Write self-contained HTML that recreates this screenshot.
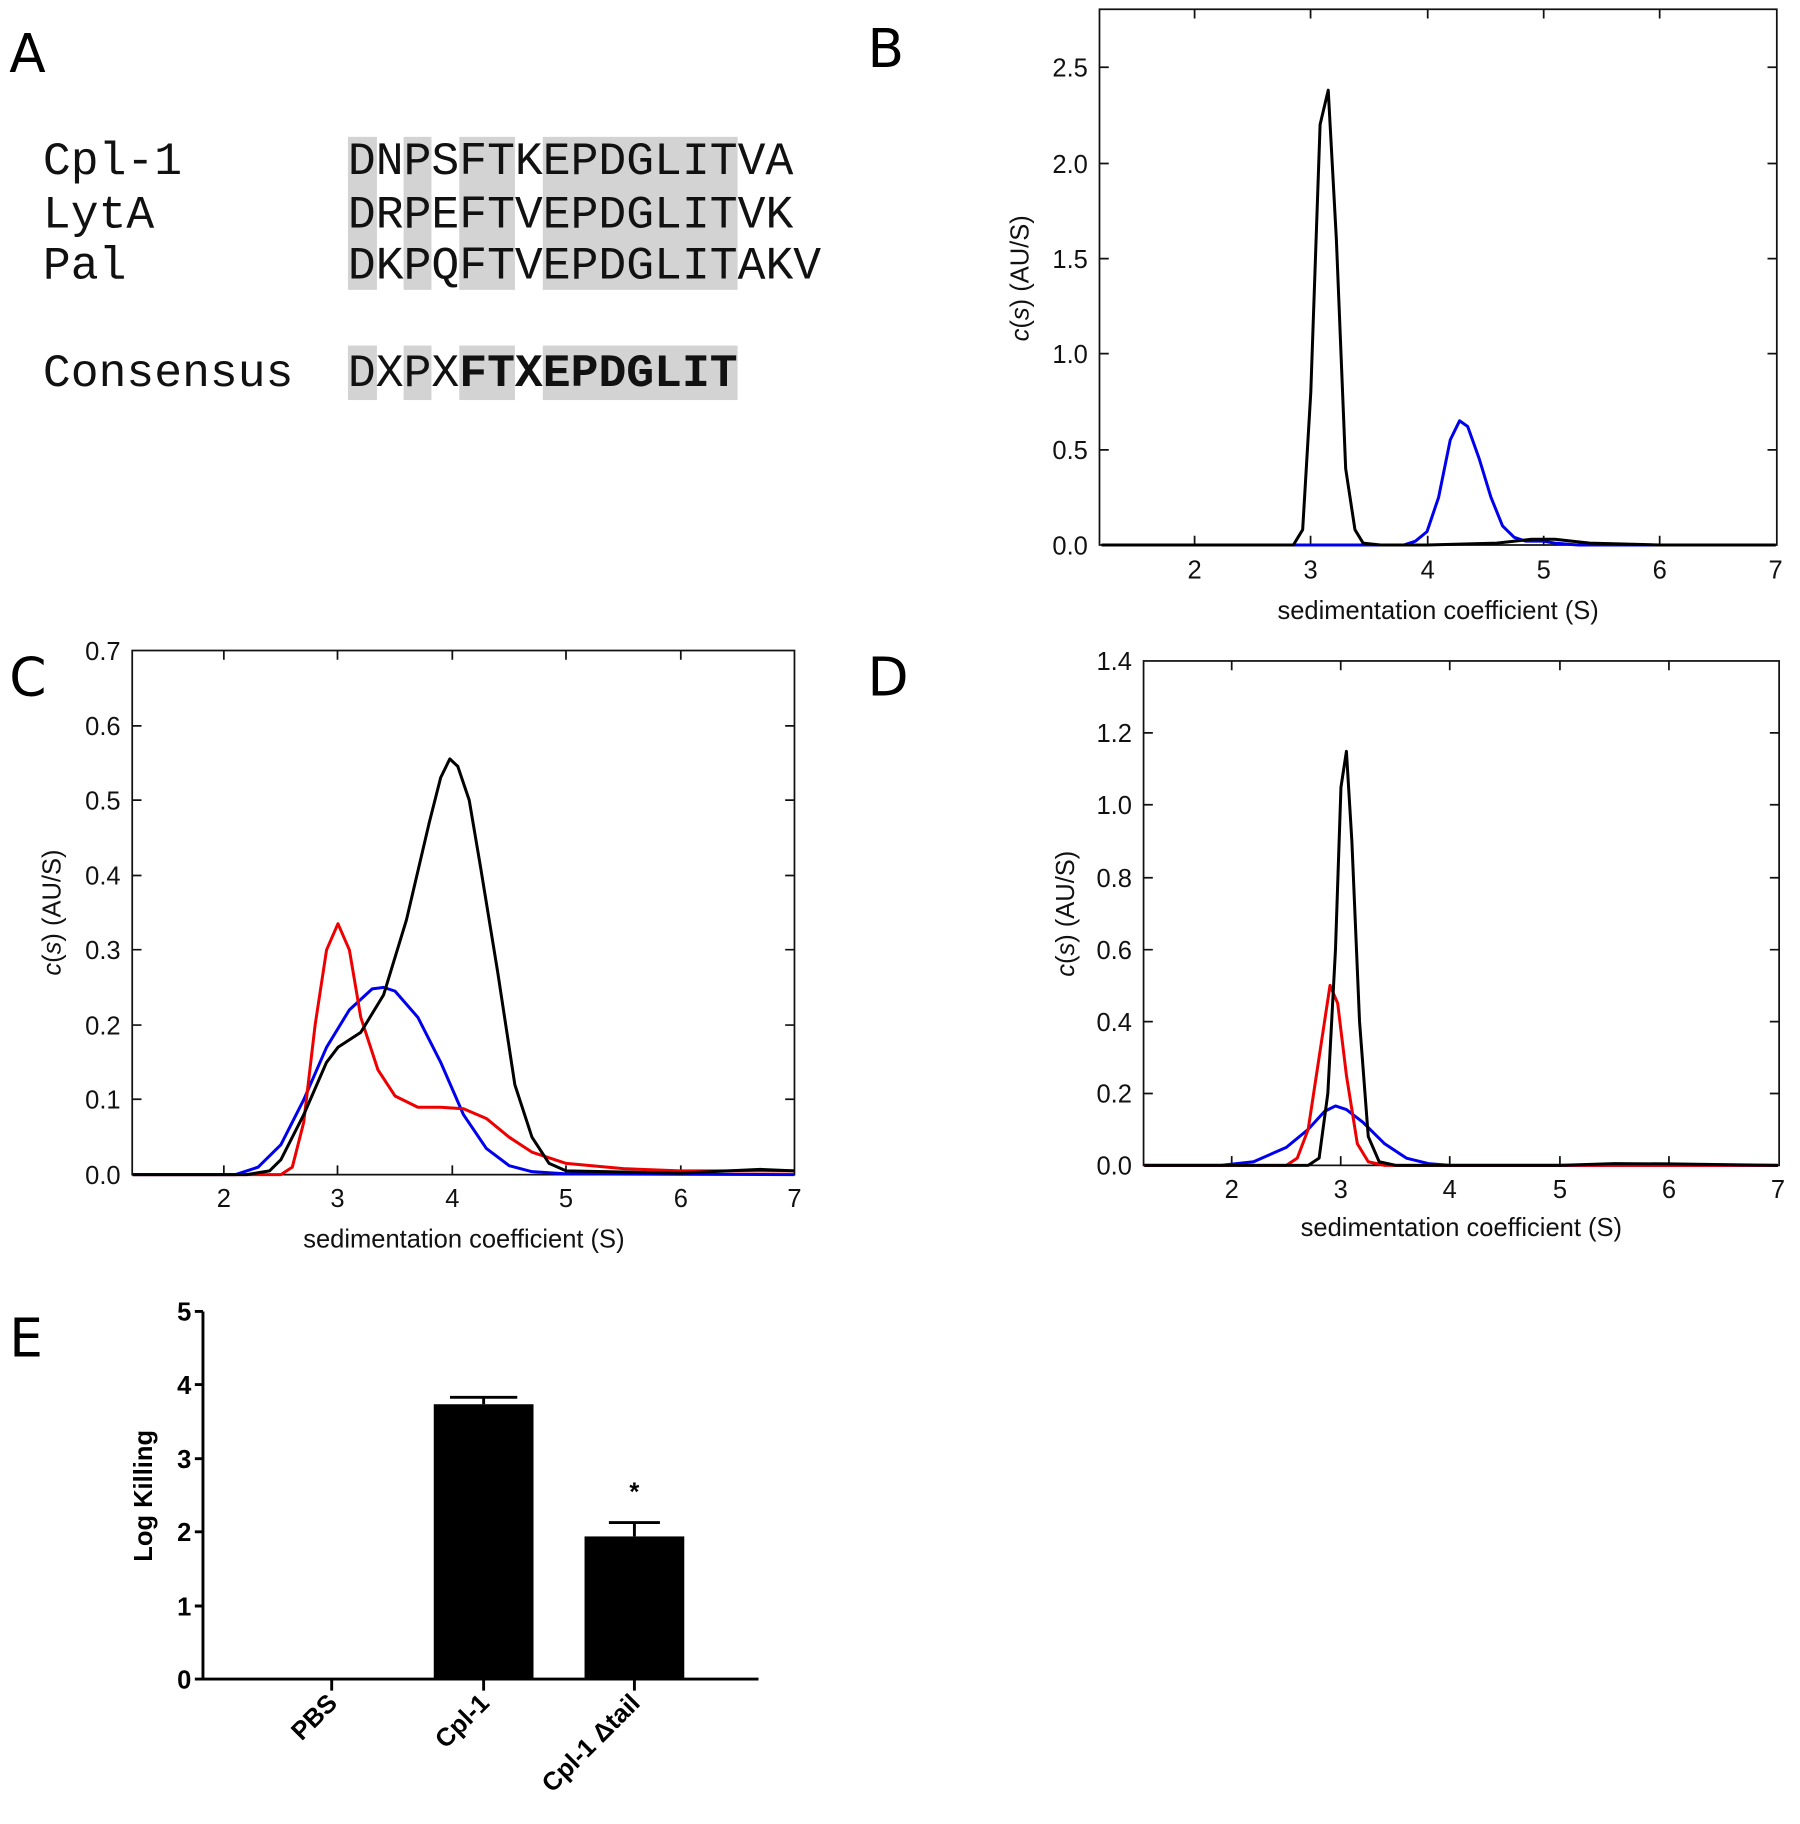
<!DOCTYPE html>
<html><head><meta charset="utf-8"><style>
html,body{margin:0;padding:0;background:#fff;}
svg{display:block;}
.lab{font-family:"DejaVu Sans","Liberation Sans",sans-serif;font-size:46px;}
.seq{font-family:"Liberation Mono",monospace;font-size:40px;fill:#111;}
.tk{font-family:"Liberation Sans",sans-serif;font-size:22px;fill:#111;}
.ax{font-family:"Liberation Sans",sans-serif;font-size:22px;fill:#111;}
.bt{font-family:"Liberation Sans",sans-serif;font-size:22px;font-weight:bold;fill:#000;}
.c{fill:none;stroke-width:3;vector-effect:non-scaling-stroke;stroke-linejoin:round;}
</style></head><body>
<svg width="1800" height="1824" viewBox="0 0 1552 1573" preserveAspectRatio="none" xmlns="http://www.w3.org/2000/svg">
<!-- Panel A -->
<text class="lab" x="8" y="62">A</text>
<g fill="#d3d3d3">
<rect x="300" y="118" width="25" height="132"/>
<rect x="348" y="118" width="24" height="132"/>
<rect x="396" y="118" width="48" height="132"/>
<rect x="468" y="118" width="168" height="132"/>
<rect x="300" y="298" width="25" height="47"/>
<rect x="348" y="298" width="24" height="47"/>
<rect x="396" y="298" width="48" height="47"/>
<rect x="468" y="298" width="168" height="47"/>
</g>
<text class="seq" x="37" y="150">Cpl-1</text>
<text class="seq" x="37" y="196">LytA</text>
<text class="seq" x="37" y="240">Pal</text>
<text class="seq" x="37" y="333">Consensus</text>
<text class="seq" x="300" y="150" textLength="384" lengthAdjust="spacingAndGlyphs">DNPSFTKEPDGLITVA</text>
<text class="seq" x="300" y="196" textLength="384" lengthAdjust="spacingAndGlyphs">DRPEFTVEPDGLITVK</text>
<text class="seq" x="300" y="240" textLength="408" lengthAdjust="spacingAndGlyphs">DKPQFTVEPDGLITAKV</text>
<text class="seq" x="300" y="333" textLength="96" lengthAdjust="spacingAndGlyphs">DXPX</text>
<text class="seq" x="396" y="333" textLength="240" lengthAdjust="spacingAndGlyphs" font-weight="bold">FTXEPDGLIT</text>

<!-- Panel B -->
<text class="lab" x="748" y="58">B</text>
<rect x="948" y="8" width="584" height="462" fill="none" stroke="#111" stroke-width="1.5"/>
<g stroke="#111" stroke-width="1.5">
<path d="M1030 470v-8M1130 470v-8M1231 470v-8M1331 470v-8M1431 470v-8M1030 8v8M1130 8v8M1231 8v8M1331 8v8M1431 8v8"/>
<path d="M948 388h8M948 305h8M948 223h8M948 141h8M948 58h8M1532 388h-8M1532 305h-8M1532 223h-8M1532 141h-8M1532 58h-8"/>
</g>
<g class="tk" text-anchor="end">
<text x="938" y="478">0.0</text><text x="938" y="396">0.5</text><text x="938" y="313">1.0</text><text x="938" y="231">1.5</text><text x="938" y="149">2.0</text><text x="938" y="66">2.5</text>
</g>
<g class="tk" text-anchor="middle">
<text x="1030" y="499">2</text><text x="1130" y="499">3</text><text x="1231" y="499">4</text><text x="1331" y="499">5</text><text x="1431" y="499">6</text><text x="1531" y="499">7</text>
</g>
<text class="ax" x="1240" y="534" text-anchor="middle">sedimentation coefficient (S)</text>
<text class="ax" transform="translate(887,240) rotate(-90)" text-anchor="middle"><tspan font-style="italic">c</tspan>(<tspan font-style="italic">s</tspan>) (AU/S)</text>
<g transform="translate(829.6,470) scale(100.2,-164.8)">
<polyline class="c" stroke="#0000ee" points="1.2,0 3.8,0 3.9,0.02 4,0.07 4.1,0.25 4.2,0.55 4.28,0.65 4.35,0.62 4.45,0.45 4.55,0.25 4.65,0.1 4.75,0.04 4.85,0.02 5,0.02 5.1,0.01 5.3,0 7,0"/>
<polyline class="c" stroke="#000" points="1.2,0 2.85,0 2.93,0.08 3,0.8 3.08,2.2 3.15,2.38 3.22,1.6 3.3,0.4 3.38,0.08 3.45,0.01 3.6,0 4,0 4.6,0.01 4.9,0.03 5.1,0.03 5.4,0.01 6,0 7,0"/>
</g>

<!-- Panel C -->
<text class="lab" x="8" y="600">C</text>
<rect x="114" y="561" width="571" height="452" fill="none" stroke="#111" stroke-width="1.5"/>
<g stroke="#111" stroke-width="1.5">
<path d="M193 1013v-8M291 1013v-8M390 1013v-8M488 1013v-8M587 1013v-8M193 561v8M291 561v8M390 561v8M488 561v8M587 561v8"/>
<path d="M114 948h8M114 884h8M114 819h8M114 755h8M114 690h8M114 626h8M685 948h-8M685 884h-8M685 819h-8M685 755h-8M685 690h-8M685 626h-8"/>
</g>
<g class="tk" text-anchor="end">
<text x="104" y="1021">0.0</text><text x="104" y="956">0.1</text><text x="104" y="892">0.2</text><text x="104" y="827">0.3</text><text x="104" y="763">0.4</text><text x="104" y="698">0.5</text><text x="104" y="634">0.6</text><text x="104" y="569">0.7</text>
</g>
<g class="tk" text-anchor="middle">
<text x="193" y="1041">2</text><text x="291" y="1041">3</text><text x="390" y="1041">4</text><text x="488" y="1041">5</text><text x="587" y="1041">6</text><text x="685" y="1041">7</text>
</g>
<text class="ax" x="400" y="1076" text-anchor="middle">sedimentation coefficient (S)</text>
<text class="ax" transform="translate(52,787) rotate(-90)" text-anchor="middle"><tspan font-style="italic">c</tspan>(<tspan font-style="italic">s</tspan>) (AU/S)</text>
<g transform="translate(-3.8,1013) scale(98.4,-646)">
<polyline class="c" stroke="#0000ee" points="1.2,0 2.1,0 2.3,0.01 2.5,0.04 2.7,0.1 2.9,0.17 3.1,0.22 3.3,0.248 3.4,0.25 3.5,0.245 3.7,0.21 3.9,0.15 4.1,0.08 4.3,0.035 4.5,0.012 4.7,0.004 5,0.001 7,0"/>
<polyline class="c" stroke="#ee0000" points="1.2,0 2.5,0 2.6,0.01 2.7,0.07 2.8,0.2 2.9,0.3 3,0.335 3.1,0.3 3.2,0.21 3.35,0.14 3.5,0.105 3.7,0.09 3.9,0.09 4.1,0.088 4.3,0.075 4.5,0.05 4.7,0.03 5,0.015 5.5,0.008 6,0.005 7,0.005"/>
<polyline class="c" stroke="#000" points="1.2,0 2.2,0 2.4,0.005 2.5,0.02 2.7,0.08 2.9,0.15 3,0.17 3.2,0.19 3.4,0.24 3.6,0.34 3.8,0.47 3.9,0.53 3.98,0.555 4.05,0.545 4.15,0.5 4.25,0.41 4.4,0.27 4.55,0.12 4.7,0.05 4.85,0.015 5,0.005 6,0.002 6.7,0.007 7,0.005"/>
</g>

<!-- Panel D -->
<text class="lab" x="748" y="600">D</text>
<rect x="986" y="570" width="548" height="435" fill="none" stroke="#111" stroke-width="1.5"/>
<g stroke="#111" stroke-width="1.5">
<path d="M1062 1005v-8M1156 1005v-8M1250 1005v-8M1345 1005v-8M1439 1005v-8M1062 570v8M1156 570v8M1250 570v8M1345 570v8M1439 570v8"/>
<path d="M986 943h8M986 881h8M986 819h8M986 757h8M986 694h8M986 632h8M1534 943h-8M1534 881h-8M1534 819h-8M1534 757h-8M1534 694h-8M1534 632h-8"/>
</g>
<g class="tk" text-anchor="end">
<text x="976" y="1013">0.0</text><text x="976" y="951">0.2</text><text x="976" y="889">0.4</text><text x="976" y="827">0.6</text><text x="976" y="765">0.8</text><text x="976" y="702">1.0</text><text x="976" y="640">1.2</text><text x="976" y="578">1.4</text>
</g>
<g class="tk" text-anchor="middle">
<text x="1062" y="1033">2</text><text x="1156" y="1033">3</text><text x="1250" y="1033">4</text><text x="1345" y="1033">5</text><text x="1439" y="1033">6</text><text x="1533" y="1033">7</text>
</g>
<text class="ax" x="1260" y="1066" text-anchor="middle">sedimentation coefficient (S)</text>
<text class="ax" transform="translate(926,788) rotate(-90)" text-anchor="middle"><tspan font-style="italic">c</tspan>(<tspan font-style="italic">s</tspan>) (AU/S)</text>
<g transform="translate(873.6,1005) scale(94.2,-310.5)">
<polyline class="c" stroke="#0000ee" points="1.2,0 1.9,0 2.2,0.01 2.5,0.05 2.7,0.1 2.85,0.15 2.95,0.165 3.05,0.155 3.2,0.12 3.4,0.06 3.6,0.02 3.8,0.005 4,0 7,0"/>
<polyline class="c" stroke="#ee0000" points="1.2,0 2.5,0 2.6,0.02 2.7,0.1 2.8,0.3 2.9,0.5 2.97,0.45 3.05,0.25 3.15,0.06 3.25,0.01 3.4,0 7,0"/>
<polyline class="c" stroke="#000" points="1.2,0 2.7,0 2.8,0.02 2.88,0.2 2.95,0.6 3,1.05 3.05,1.15 3.1,0.9 3.17,0.4 3.25,0.08 3.35,0.01 3.5,0 5,0 5.5,0.005 6,0.004 7,0"/>
</g>

<!-- Panel E -->
<text class="lab" x="8" y="1170">E</text>
<g stroke="#000" stroke-width="2.5" fill="none">
<path d="M175 1131V1448H654"/>
<path d="M168 1131h7M168 1194h7M168 1258h7M168 1321h7M168 1385h7M168 1448h7"/>
<path d="M286 1448v10M417 1448v10M547 1448v10"/>
<path d="M417 1211v-6M388 1205h58M547 1325v-12M525 1313h44"/>
</g>
<rect x="374" y="1211" width="86" height="237" fill="#000"/>
<rect x="504" y="1325" width="86" height="123" fill="#000"/>
<g class="bt" text-anchor="end">
<text x="165" y="1139">5</text><text x="165" y="1202">4</text><text x="165" y="1266">3</text><text x="165" y="1329">2</text><text x="165" y="1393">1</text><text x="165" y="1456">0</text>
</g>
<text class="bt" x="547" y="1294" text-anchor="middle">*</text>
<text class="bt" transform="translate(131,1290) rotate(-90)" text-anchor="middle" font-size="24">Log Killing</text>
<text class="bt" transform="translate(292,1470) rotate(-45)" text-anchor="end">PBS</text>
<text class="bt" transform="translate(423,1470) rotate(-45)" text-anchor="end">Cpl-1</text>
<text class="bt" transform="translate(553,1470) rotate(-45)" text-anchor="end">Cpl-1 Δtail</text>
</svg>
</body></html>
